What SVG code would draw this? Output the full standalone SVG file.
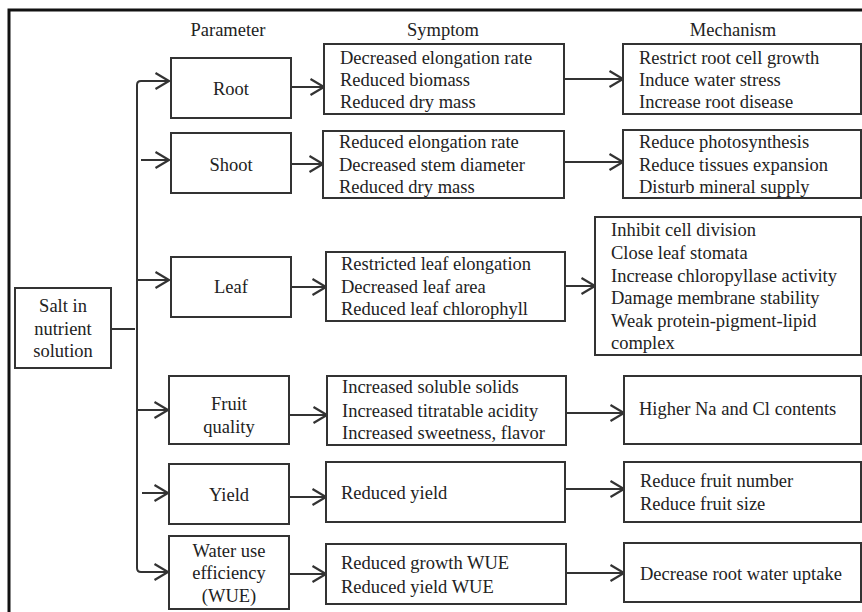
<svg xmlns="http://www.w3.org/2000/svg" width="862" height="612" viewBox="0 0 862 612">
<style>
text{font-family:"Liberation Serif","Times New Roman",serif;font-size:18.5px;fill:#222}
.c{text-anchor:middle}
.box{fill:#fff;stroke:#333;stroke-width:2}
.ln{fill:none;stroke:#333;stroke-width:2}
.ar{fill:none;stroke:#333;stroke-width:2;marker-end:url(#ah)}
</style>
<defs>
<marker id="ah" markerUnits="userSpaceOnUse" markerWidth="18" markerHeight="20" refX="15" refY="10" orient="auto" overflow="visible">
<path d="M1.5,2 L15,10 L1.5,18" fill="none" stroke="#333" stroke-width="2.2" stroke-linejoin="miter"/>
</marker>
</defs>
<rect width="862" height="612" fill="#fff"/>
<path d="M9,614 V10 H864" fill="none" stroke="#111" stroke-width="3"/>
<g id="headers">
<text class="c" x="228" y="36">Parameter</text>
<text class="c" x="443" y="36">Symptom</text>
<text class="c" x="733" y="36">Mechanism</text>
</g>
<g id="connectors">
<line class="ln" x1="111" y1="329" x2="135" y2="329"/>
<path class="ar" d="M137,330 V85 Q137,81 141,81 H169"/>
<path class="ar" d="M137,330 V568 Q137,572 141,572 H168"/>
<path class="ar" d="M141,160 H169"/>
<path class="ar" d="M137,280 H169"/>
<path class="ar" d="M137,410 H168"/>
<path class="ar" d="M142,493 H168"/>
<path class="ar" d="M291,87 H324"/>
<path class="ar" d="M291,164 H323"/>
<path class="ar" d="M291,287 H326"/>
<path class="ar" d="M289,415 H327"/>
<path class="ar" d="M289,497 H326"/>
<path class="ar" d="M289,574 H326"/>
<path class="ar" d="M564,79 H623"/>
<path class="ar" d="M564,162 H623"/>
<path class="ar" d="M565,286 H595"/>
<path class="ar" d="M566,413 H624"/>
<path class="ar" d="M565,489 H624"/>
<path class="ar" d="M566,573 H624"/>
</g>
<g id="salt">
<rect class="box" x="15" y="288" width="96" height="80"/>
<text class="c" x="63" y="312">Salt in</text>
<text class="c" x="63" y="335">nutrient</text>
<text class="c" x="63" y="357">solution</text>
</g>
<g id="root">
<rect class="box" x="171" y="58" width="120" height="60"/>
<text class="c" x="231" y="95">Root</text>
</g>
<g id="shoot">
<rect class="box" x="171" y="133" width="120" height="60"/>
<text class="c" x="231" y="171">Shoot</text>
</g>
<g id="leaf">
<rect class="box" x="171" y="257" width="120" height="60"/>
<text class="c" x="231" y="293">Leaf</text>
</g>
<g id="fruit">
<rect class="box" x="169" y="376" width="120" height="68"/>
<text class="c" x="229" y="410">Fruit</text>
<text class="c" x="229" y="433">quality</text>
</g>
<g id="yield">
<rect class="box" x="169" y="464" width="120" height="60"/>
<text class="c" x="229" y="501">Yield</text>
</g>
<g id="wue">
<rect class="box" x="169" y="536" width="120" height="73"/>
<text class="c" x="229" y="557">Water use</text>
<text class="c" x="229" y="579">efficiency</text>
<text class="c" x="229" y="602">(WUE)</text>
</g>
<g id="root-symptom">
<rect class="box" x="324" y="44" width="240" height="70"/>
<text x="340" y="64">Decreased elongation rate</text>
<text x="340" y="86">Reduced biomass</text>
<text x="340" y="108">Reduced dry mass</text>
</g>
<g id="shoot-symptom">
<rect class="box" x="323" y="131" width="241" height="67"/>
<text x="339" y="148">Reduced elongation rate</text>
<text x="339" y="171">Decreased stem diameter</text>
<text x="339" y="193">Reduced dry mass</text>
</g>
<g id="leaf-symptom">
<rect class="box" x="326" y="252" width="239" height="69"/>
<text x="341" y="270">Restricted leaf elongation</text>
<text x="341" y="293">Decreased leaf area</text>
<text x="341" y="315">Reduced leaf chlorophyll</text>
</g>
<g id="fruit-symptom">
<rect class="box" x="327" y="376" width="239" height="69"/>
<text x="342" y="393">Increased soluble solids</text>
<text x="342" y="417">Increased titratable acidity</text>
<text x="342" y="439">Increased sweetness, flavor</text>
</g>
<g id="yield-symptom">
<rect class="box" x="326" y="462" width="239" height="60"/>
<text x="341" y="499">Reduced yield</text>
</g>
<g id="wue-symptom">
<rect class="box" x="326" y="544" width="240" height="60"/>
<text x="341" y="569">Reduced growth WUE</text>
<text x="341" y="593">Reduced yield WUE</text>
</g>
<g id="root-mechanism">
<rect class="box" x="623" y="44" width="238" height="70"/>
<text x="639" y="64">Restrict root cell growth</text>
<text x="639" y="86">Induce water stress</text>
<text x="639" y="108">Increase root disease</text>
</g>
<g id="shoot-mechanism">
<rect class="box" x="623" y="130" width="238" height="68"/>
<text x="639" y="148">Reduce photosynthesis</text>
<text x="639" y="171">Reduce tissues expansion</text>
<text x="639" y="193">Disturb mineral supply</text>
</g>
<g id="leaf-mechanism">
<rect class="box" x="595" y="217" width="266" height="138"/>
<text x="611" y="236">Inhibit cell division</text>
<text x="611" y="259">Close leaf stomata</text>
<text x="611" y="282">Increase chloropyllase activity</text>
<text x="611" y="304">Damage membrane stability</text>
<text x="611" y="327">Weak protein-pigment-lipid</text>
<text x="611" y="349">complex</text>
</g>
<g id="fruit-mechanism">
<rect class="box" x="624" y="376" width="237" height="68"/>
<text x="639" y="415">Higher Na and Cl contents</text>
</g>
<g id="yield-mechanism">
<rect class="box" x="624" y="462" width="237" height="60"/>
<text x="640" y="487">Reduce fruit number</text>
<text x="640" y="510">Reduce fruit size</text>
</g>
<g id="wue-mechanism">
<rect class="box" x="624" y="543" width="237" height="59"/>
<text x="640" y="580">Decrease root water uptake</text>
</g>
</svg>
